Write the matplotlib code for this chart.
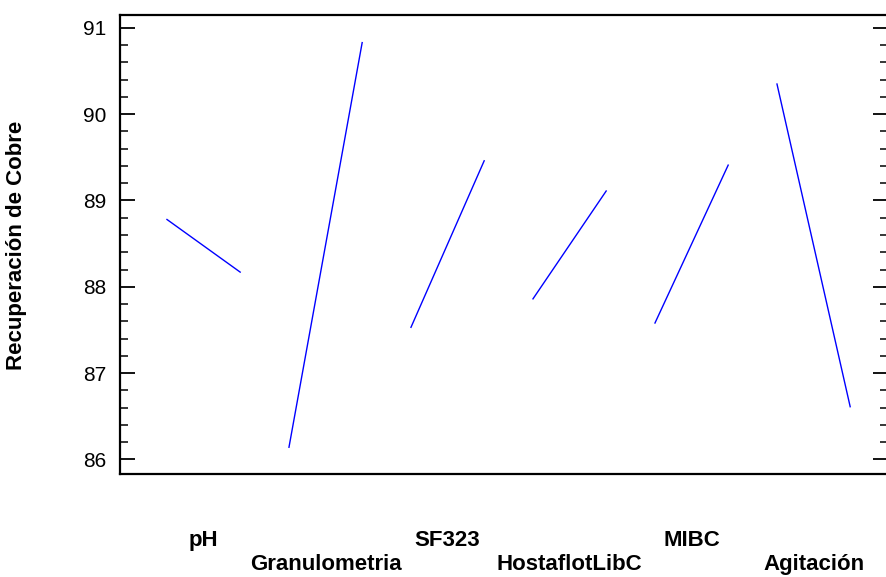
import matplotlib.pyplot as plt
import matplotlib.transforms as mtransforms
from matplotlib.ticker import MultipleLocator

# main effects for copper recovery
factors = ['pH', 'Granulometria', 'SF323', 'HostaflotLibC', 'MIBC', 'Agitación']
low_values = [88.78, 86.14, 87.53, 87.86, 87.58, 90.35]
high_values = [88.17, 90.83, 89.46, 89.11, 89.41, 86.61]

plt.rcParams['font.family'] = ['Liberation Sans', 'DejaVu Sans']

fig = plt.figure(figsize=(8.86, 5.77), dpi=100)
# right spine sits just past the image edge, as in the original
ax = fig.add_axes([120 / 886, 1 - 474 / 577, 768 / 886, 459 / 577])

span = 0.6
for i, (lo, hi) in enumerate(zip(low_values, high_values)):
    ax.plot([i, i + span], [lo, hi], color='#0000ff', linewidth=1.0)

# factor names under the axis, alternating rows
trans = mtransforms.blended_transform_factory(ax.transData, ax.transAxes)
for i, name in enumerate(factors):
    y = -0.144 if i % 2 == 0 else -0.198
    ax.text(i + span / 2, y, name, transform=trans, ha='center', va='center',
            fontsize=16, fontweight='bold')

ax.set_xlim(-0.385, 5.91)
ax.set_ylim(85.83, 91.15)
ax.set_xticks([])
ax.yaxis.set_major_locator(MultipleLocator(1))
ax.yaxis.set_minor_locator(MultipleLocator(0.2))
ax.tick_params(axis='y', which='both', direction='in', right=True, labelsize=15, pad=10)
ax.tick_params(axis='y', which='major', length=11, width=1.3)
ax.tick_params(axis='y', which='minor', length=6, width=1.1)
for s in ax.spines.values():
    s.set_linewidth(1.6)

fig.text(17 / 886, 1 - 245 / 577, 'Recuperación de Cobre', rotation=90,
         ha='center', va='center', fontsize=16, fontweight='bold')

fig.savefig('out.png', dpi=100)
